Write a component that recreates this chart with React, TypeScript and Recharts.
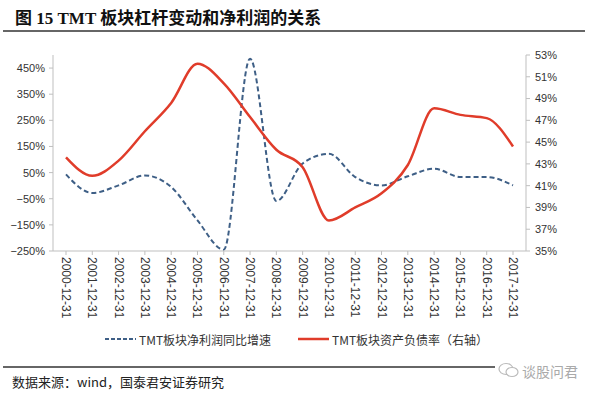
import { LineChart, Line, XAxis, YAxis } from "recharts";

// 年末日期
const years = [
  "2000-12-31", "2001-12-31", "2002-12-31", "2003-12-31", "2004-12-31", "2005-12-31",
  "2006-12-31", "2007-12-31", "2008-12-31", "2009-12-31", "2010-12-31", "2011-12-31",
  "2012-12-31", "2013-12-31", "2014-12-31", "2015-12-31", "2016-12-31", "2017-12-31",
];

// TMT板块净利润同比增速（%，左轴）
const profitGrowth = [43, -28, 1, 39, -5, -133, -245, 486, -59, 85, 122, 33, 1, 36, 65, 33, 33, 1];

// TMT板块资产负债率（%，右轴）
const debtRatio = [43.6, 41.9, 43.3, 46.0, 48.6, 52.2, 50.4, 47.3, 44.3, 42.7, 37.8, 39.0, 40.3, 42.9, 48.1, 47.5, 47.2, 44.6];

const leftTicks = [-250, -150, -50, 50, 150, 250, 350, 450];
const rightTicks = [35, 37, 39, 41, 43, 45, 47, 49, 51, 53];

const data = years.map((d, i) => ({ date: d, growth: profitGrowth[i], debt: debtRatio[i] }));

const FONT = "'Liberation Sans', Arial, sans-serif";
const CJK = "'Noto Sans CJK SC', sans-serif";
const BLUE = "#3e5f86";
const RED = "#e03c2a";

const pct = (v: number) => `${v}%`.replace("-", "\u2212");

const XTick = (props: any) => {
  const { x, y, payload } = props;
  return (
    <text
      transform={`translate(${x},${y}) rotate(90)`}
      textAnchor="start"
      dominantBaseline="central"
      fontSize={12}
      fill="#333"
      fontFamily={FONT}
    >
      {payload.value}
    </text>
  );
};

export default function App() {
  return (
    <div style={{ position: "absolute", left: 0, top: 0, width: 600, height: 399, background: "#fff" }}>
      <div
        style={{
          position: "absolute", left: 15, top: 4, fontSize: 17, fontWeight: "bold", color: "#111",
          fontFamily: "'Liberation Serif', 'Noto Sans CJK SC', serif", whiteSpace: "nowrap",
        }}
      >
        图 15 TMT 板块杠杆变动和净利润的关系
      </div>
      <div style={{ position: "absolute", left: 3, top: 30, width: 582, height: 2, background: "#666" }} />

      <div style={{ position: "absolute", left: 0, top: 0 }}>
        <LineChart width={600} height={330} data={data} margin={{ top: 55, right: 14, bottom: 9, left: 0 }}>
          <XAxis
            dataKey="date"
            interval={0}
            padding={{ left: 13, right: 13 }}
            height={70}
            tick={<XTick />}
            tickSize={4}
            tickMargin={2}
            stroke="#bfbfbf"
          />
          <YAxis
            yAxisId="left"
            width={53}
            domain={[-250, 500]}
            ticks={leftTicks}
            tickFormatter={pct}
            tickSize={4}
            tickMargin={4}
            stroke="#bfbfbf"
            tick={{ fill: "#333", fontSize: 11, fontFamily: FONT }}
          />
          <YAxis
            yAxisId="right"
            orientation="right"
            width={60}
            domain={[35, 53]}
            ticks={rightTicks}
            tickFormatter={pct}
            tickSize={4}
            tickMargin={5}
            stroke="#bfbfbf"
            tick={{ fill: "#333", fontSize: 11, fontFamily: FONT }}
          />
          {/* 净利润同比增速（蓝色虚线） */}
          <Line
            yAxisId="left"
            type="monotone"
            dataKey="growth"
            stroke={BLUE}
            strokeWidth={2}
            strokeDasharray="5 3"
            dot={false}
            isAnimationActive={false}
          />
          {/* 资产负债率（红色实线） */}
          <Line
            yAxisId="right"
            type="monotone"
            dataKey="debt"
            stroke={RED}
            strokeWidth={2.5}
            dot={false}
            isAnimationActive={false}
          />
        </LineChart>
      </div>

      {/* 图例 */}
      <svg style={{ position: "absolute", left: 0, top: 328 }} width={600} height={22}>
        <line x1={105} y1={11} x2={136} y2={11} stroke={BLUE} strokeWidth={2} strokeDasharray="4 2" />
        <text x={139} y={11} dominantBaseline="central" fontSize={12} fill="#333" fontFamily={CJK}>
          TMT板块净利润同比增速
        </text>
        <line x1={298} y1={11} x2={329} y2={11} stroke={RED} strokeWidth={2.5} />
        <text x={332} y={11} dominantBaseline="central" fontSize={12} fill="#333" fontFamily={CJK}>
          TMT板块资产负债率（右轴）
        </text>
      </svg>

      <div style={{ position: "absolute", left: 3, top: 366, width: 492, height: 1.5, background: "#666" }} />
      <div
        style={{
          position: "absolute", left: 12, top: 372, fontSize: 13, color: "#222",
          fontFamily: CJK, whiteSpace: "nowrap",
        }}
      >
        数据来源：wind，国泰君安证券研究
      </div>
      <svg style={{ position: "absolute", left: 496, top: 360 }} width={26} height={20}>
        <ellipse cx={10} cy={9} rx={7} ry={5.5} fill="none" stroke="#bbb" strokeWidth={1.2} />
        <ellipse cx={16} cy={12} rx={6} ry={4.5} fill="#fff" stroke="#bbb" strokeWidth={1.2} />
      </svg>
      <div
        style={{
          position: "absolute", left: 522, top: 361, fontSize: 14, color: "#aaa",
          fontFamily: CJK, whiteSpace: "nowrap",
        }}
      >
        谈股问君
      </div>
    </div>
  );
}
